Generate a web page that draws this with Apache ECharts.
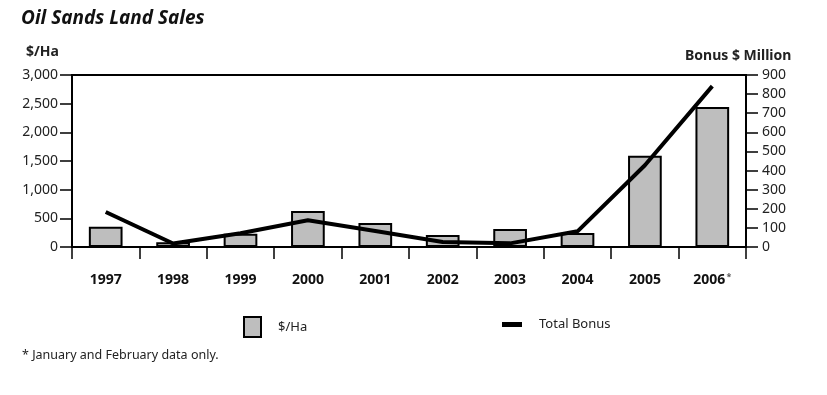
<!DOCTYPE html>
<html><head><meta charset="utf-8">
<script src="https://cdn.jsdelivr.net/npm/echarts@6/dist/echarts.min.js"></script>
<style>html,body{margin:0;padding:0;background:#fff}#c{width:827px;height:395px}</style>
</head><body><div id="c"></div>
<script>
const years = ['1997','1998','1999','2000','2001','2002','2003','2004','2005','2006'];
const perHa = [355, 85, 230, 630, 420, 210, 315, 245, 1590, 2440];
const totalBonus = [183, 18, 72, 140, 84, 26, 19, 82, 428, 842];
const leftTicks = [0, 500, 1000, 1500, 2000, 2500, 3000];
const rightTicks = [0, 100, 200, 300, 400, 500, 600, 700, 800, 900];
const FONT = 'Noto Sans';
const chart = echarts.init(document.getElementById('c'));
chart.setOption({
  animation: false,
  backgroundColor: '#fff',
  textStyle: { fontFamily: FONT },
  title: [
    { text: 'Oil Sands Land Sales', left: 16, top: 4, textStyle: { fontSize: 19, fontWeight: 'bold', fontStyle: 'italic', color: '#111', fontFamily: FONT } },
    { text: '$/Ha', left: 21, top: 40, textStyle: { fontSize: 14, fontWeight: 'bold', color: '#222', fontFamily: FONT } },
    { text: 'Bonus $ Million', left: 680, top: 44, textStyle: { fontSize: 14, fontWeight: 'bold', color: '#222', fontFamily: FONT } },
    { text: '* January and February data only.', left: 17, top: 344, textStyle: { fontSize: 12.5, fontWeight: 'normal', color: '#222', fontFamily: FONT } }
  ],
  legend: [
    { data: ['$/Ha'], left: 238, top: 311, itemWidth: 17, itemHeight: 20, itemGap: 10, textStyle: { fontSize: 13, color: '#222', padding: [0,0,0,12] }, icon: 'rect' },
    { data: [{ name: 'Total Bonus', icon: 'rect', itemStyle: { color: '#000', borderWidth: 0 } }], left: 497, top: 313, itemWidth: 20, itemHeight: 5, textStyle: { fontSize: 13, color: '#222', padding: [0,0,0,12] } }
  ],
  grid: { left: 72, right: 81, top: 75, bottom: 148, show: true, borderColor: '#000', borderWidth: 2, backgroundColor: 'transparent' },
  xAxis: {
    type: 'category', data: years, boundaryGap: true,
    axisLine: { lineStyle: { color: '#000', width: 2 } },
    axisTick: { show: true, interval: 0, length: 12, lineStyle: { color: '#000', width: 1.5 } },
    axisLabel: {
      interval: 0, margin: 26, color: '#111', fontWeight: 'bold', fontSize: 14, fontFamily: FONT,
      formatter: function (v) { return v === '2006' ? v + '{s|*}' : v; },
      rich: { s: { fontSize: 9, verticalAlign: 'top', color: '#555', padding: [0,0,6,1] } }
    }
  },
  yAxis: [
    { type: 'value', min: 0, max: 3000, interval: 500, position: 'left',
      axisLine: { show: true, lineStyle: { color: '#000', width: 2 } },
      axisTick: { show: true, inside: false, length: 12, lineStyle: { color: '#000', width: 1.5 } },
      splitLine: { show: false },
      axisLabel: { margin: 14, color: '#222', fontSize: 14, fontFamily: FONT, formatter: function (v) { return v.toLocaleString('en-US'); } } },
    { type: 'value', min: 0, max: 900, interval: 100, position: 'right',
      axisLine: { show: true, lineStyle: { color: '#000', width: 2 } },
      axisTick: { show: true, length: 12, lineStyle: { color: '#000', width: 1.5 } },
      splitLine: { show: false },
      axisLabel: { margin: 16, color: '#222', fontSize: 14, fontFamily: FONT } }
  ],
  series: [
    { name: '$/Ha', type: 'bar', yAxisIndex: 0, data: perHa, barWidth: '50%',
      itemStyle: { color: '#bebebe', borderColor: '#000', borderWidth: 2 } },
    { name: 'Total Bonus', type: 'line', yAxisIndex: 1, data: totalBonus, symbol: 'none',
      lineStyle: { color: '#000', width: 4 }, itemStyle: { color: '#000' } }
  ]
});
</script></body></html>
